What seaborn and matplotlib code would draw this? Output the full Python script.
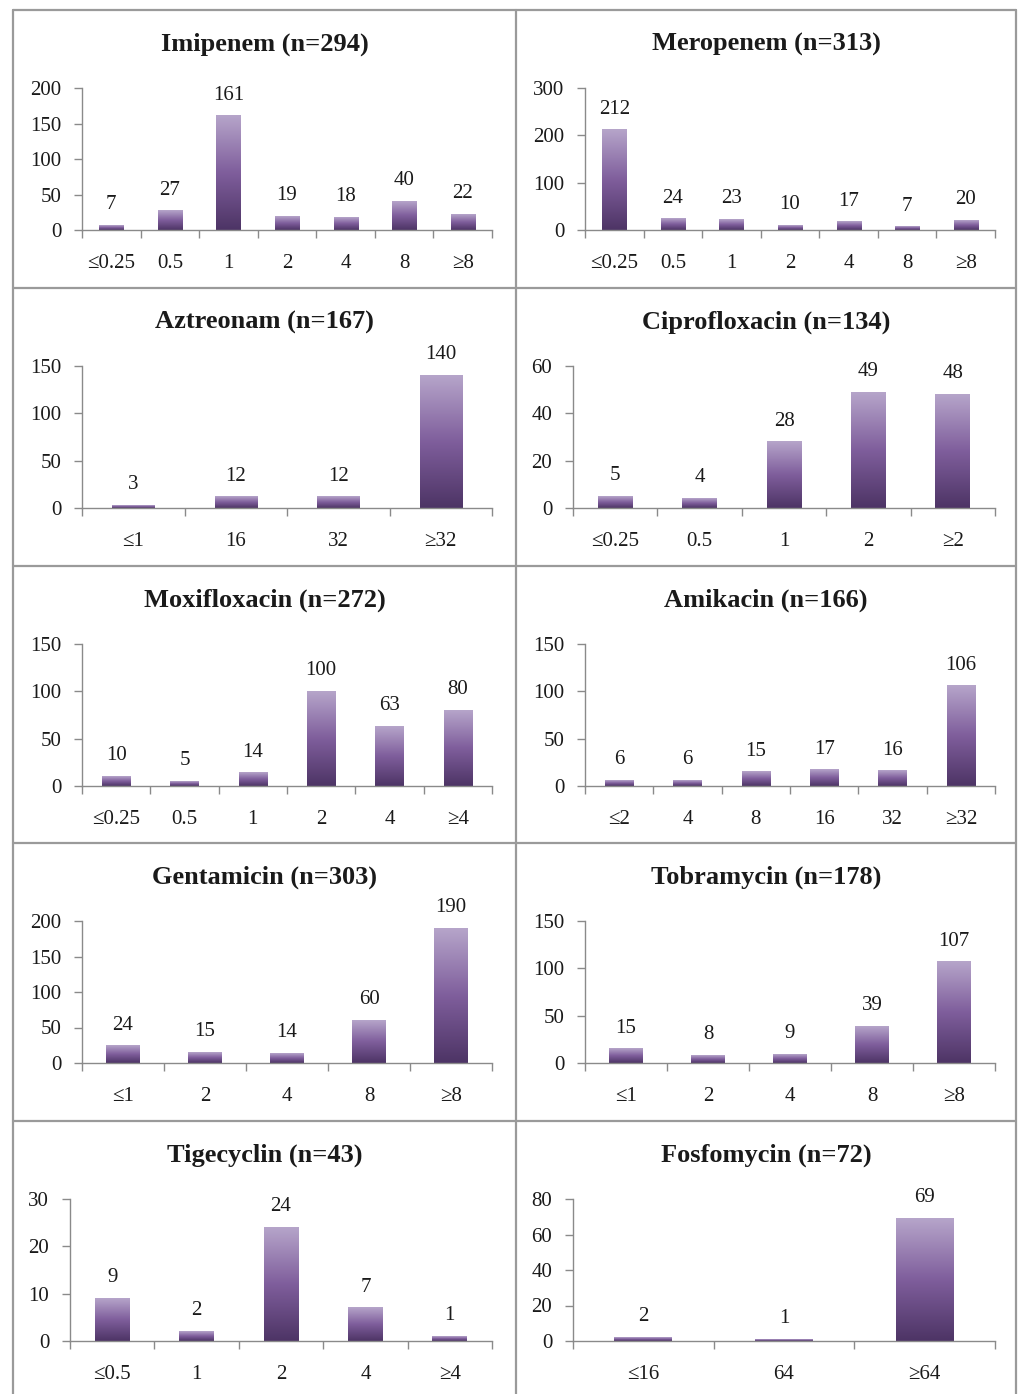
import numpy as np
import matplotlib
matplotlib.use("Agg")
import matplotlib.pyplot as plt
from matplotlib.colors import LinearSegmentedColormap
from matplotlib.lines import Line2D
import seaborn as sns

# MIC categories and number of isolates for each antibiotic
imipenem_mic = ["≤0.25", "0.5", "1", "2", "4", "8", "≥8"]
imipenem_n = [7, 27, 161, 19, 18, 40, 22]
meropenem_mic = ["≤0.25", "0.5", "1", "2", "4", "8", "≥8"]
meropenem_n = [212, 24, 23, 10, 17, 7, 20]
aztreonam_mic = ["≤1", "16", "32", "≥32"]
aztreonam_n = [3, 12, 12, 140]
cipro_mic = ["≤0.25", "0.5", "1", "2", "≥2"]
cipro_n = [5, 4, 28, 49, 48]
moxi_mic = ["≤0.25", "0.5", "1", "2", "4", "≥4"]
moxi_n = [10, 5, 14, 100, 63, 80]
amikacin_mic = ["≤2", "4", "8", "16", "32", "≥32"]
amikacin_n = [6, 6, 15, 17, 16, 106]
genta_mic = ["≤1", "2", "4", "8", "≥8"]
genta_n = [24, 15, 14, 60, 190]
tobra_mic = ["≤1", "2", "4", "8", "≥8"]
tobra_n = [15, 8, 9, 39, 107]
tige_mic = ["≤0.5", "1", "2", "4", "≥4"]
tige_n = [9, 2, 24, 7, 1]
fosfo_mic = ["≤16", "64", "≥64"]
fosfo_n = [2, 1, 69]

titles = ["Imipenem (n=294)", "Meropenem (n=313)", "Aztreonam (n=167)",
          "Ciprofloxacin (n=134)", "Moxifloxacin (n=272)", "Amikacin (n=166)",
          "Gentamicin (n=303)", "Tobramycin (n=178)", "Tigecyclin (n=43)",
          "Fosfomycin (n=72)"]
mics = [imipenem_mic, meropenem_mic, aztreonam_mic, cipro_mic, moxi_mic,
        amikacin_mic, genta_mic, tobra_mic, tige_mic, fosfo_mic]
counts = [imipenem_n, meropenem_n, aztreonam_n, cipro_n, moxi_n,
          amikacin_n, genta_n, tobra_n, tige_n, fosfo_n]
ymax = [200, 300, 150, 60, 150, 150, 200, 150, 30, 80]
ystep = [50, 100, 50, 20, 50, 50, 50, 50, 10, 20]

sns.set_style("white")
plt.rcParams["font.family"] = ["Liberation Serif", "DejaVu Serif"]

W, H = 1019, 1394
fig = plt.figure(figsize=(W / 100, H / 100), dpi=100)

panel_tops = [10, 288, 566, 843, 1121]
col_x = [13, 516, 1016]
axis_left = [82, 585, 82, 573, 82, 585, 82, 585, 70, 573]
axis_right = [492, 995]

cmap = LinearSegmentedColormap.from_list("bar", ["#4d3465", "#7f5e9c", "#b6a5ca"])
grad = np.linspace(0, 1, 256).reshape(-1, 1)
axis_grey = "#8a8a8a"
text_col = "#1a1a1a"

for i, (title, mic, n) in enumerate(zip(titles, mics, counts)):
    row, col = divmod(i, 2)
    top = panel_tops[row]
    L, R = axis_left[i], axis_right[col]
    T, B = top + 78, top + 220
    ax = fig.add_axes([L / W, 1 - B / H, (R - L) / W, (B - T) / H])
    sns.barplot(x=mic, y=n, ax=ax, width=0.41, color="#7f5e9c")
    k = len(mic)

    # vertical gradient fill on every bar
    for p in ax.patches:
        x0, w, h = p.get_x(), p.get_width(), p.get_height()
        ax.imshow(grad, extent=[x0, x0 + w, 0, h], origin="lower",
                  aspect="auto", cmap=cmap, zorder=2)
        p.set_visible(False)

    for j, v in enumerate(n):
        ax.annotate(str(v), (j, v), xytext=(0, 8), textcoords="offset points",
                    ha="center", va="bottom", fontsize=15, color=text_col)

    ax.set_xlim(-0.5, k - 0.5)
    ax.set_ylim(0, ymax[i])
    ax.set_yticks(np.arange(0, ymax[i] + 1, ystep[i]))
    ax.set_xticks(range(k))
    ax.set_xticklabels(mic)
    ax.set_xticks(np.arange(-0.5, k), minor=True)
    ax.tick_params(axis="x", which="major", length=0, pad=17,
                   labelsize=15, labelcolor=text_col)
    ax.tick_params(axis="x", which="minor", length=6, width=1,
                   color=axis_grey, direction="out", bottom=True)
    ax.tick_params(axis="y", length=6, width=1, color=axis_grey,
                   direction="out", left=True, pad=9,
                   labelsize=15, labelcolor=text_col)
    ax.set_xlabel("")
    ax.set_ylabel("")
    sns.despine(ax=ax)
    for s in ["left", "bottom"]:
        ax.spines[s].set_color(axis_grey)
        ax.spines[s].set_linewidth(1)
    ax.patch.set_alpha(0)

    cx = (col_x[col] + col_x[col + 1]) / 2
    fig.text(cx / W, 1 - (top + 34) / H, title, ha="center", va="center",
             fontsize=19, fontweight="bold", color=text_col)

# panel borders
border = "#9a9a9a"
for y in panel_tops:
    fig.add_artist(Line2D([col_x[0] / W, col_x[2] / W], [1 - y / H, 1 - y / H],
                          color=border, lw=1.6))
for x in col_x:
    fig.add_artist(Line2D([x / W, x / W], [1 - panel_tops[0] / H, 0],
                          color=border, lw=1.6))

fig.savefig("out.png", dpi=100, facecolor="white")
